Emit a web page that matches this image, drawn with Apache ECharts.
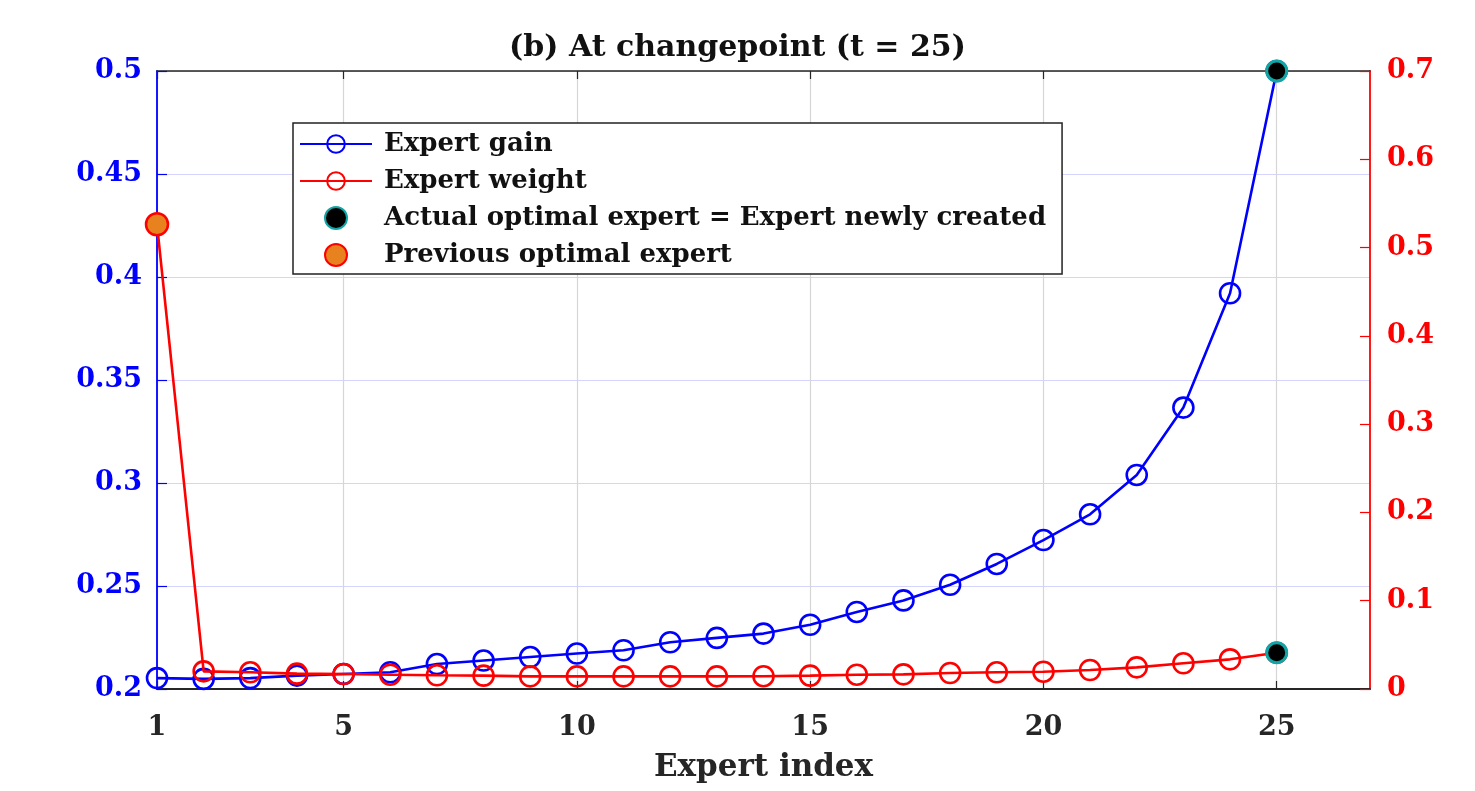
<!DOCTYPE html>
<html>
<head>
<meta charset="utf-8">
<script src="https://cdn.jsdelivr.net/npm/echarts@6/dist/echarts.min.js"></script>
<style>
html,body{margin:0;padding:0;background:#fff;}
#chart{width:1475px;height:791px;}
</style>
</head>
<body>
<div id="chart"></div>
<script>
// ---- data ----
const expertIndex = [1,2,3,4,5,6,7,8,9,10,11,12,13,14,15,16,17,18,19,20,21,22,23,24,25];
const expertGain = [0.2053,0.2049,0.2053,0.2065,0.2073,0.2081,0.2121,0.2138,0.2155,0.2172,0.2188,0.2227,0.2248,0.2269,0.2312,0.2374,0.2430,0.2506,0.2607,0.2723,0.2848,0.3039,0.3366,0.3921,0.5000];
const expertWeight = [0.5264,0.0200,0.0189,0.0174,0.0170,0.0162,0.0155,0.0151,0.0143,0.0143,0.0143,0.0143,0.0143,0.0145,0.0151,0.0162,0.0166,0.0181,0.0189,0.0196,0.0215,0.0245,0.0291,0.0336,0.0411];
const xTicks = [1,5,10,15,20,25];
const actualOptimalIdx = 25;
const previousOptimalIdx = 1;
const titleText = '(b) At changepoint (t = 25)';
const xName = 'Expert index';
const names = ['Expert gain','Expert weight','Actual optimal expert = Expert newly created','Previous optimal expert'];

const FONT = 'DejaVu Serif';
const pos = expertIndex.indexOf(actualOptimalIdx);
const ppos = expertIndex.indexOf(previousOptimalIdx);

const chart = echarts.init(document.getElementById('chart'), null, {renderer:'canvas'});
const option = {
  backgroundColor:'#fff',
  animation:false,
  title:{
    text:titleText, left:'center', top:28,
    textStyle:{fontFamily:FONT, fontWeight:'bold', fontSize:30, color:'#111'}
  },
  grid:{left:157, right:105, top:71, bottom:102, containLabel:false},
  legend:{
    orient:'vertical', left:293, top:123,
    backgroundColor:'#fff', borderColor:'#222', borderWidth:1.5,
    padding:[8,16,6,6], itemGap:11, itemWidth:72, itemHeight:22,
    textStyle:{fontFamily:FONT, fontWeight:'bold', fontSize:26, lineHeight:26, color:'#111', padding:[0,0,0,7]},
    data: names
  },
  xAxis:[{
    type:'value', min:1, max:27, position:'bottom',
    name:xName, nameLocation:'middle', nameGap:63,
    nameTextStyle:{fontFamily:FONT, fontWeight:'bold', fontSize:31, color:'#262626'},
    axisLine:{show:true, onZero:false, lineStyle:{color:'#262626', width:1.8}},
    axisTick:{show:true, inside:true, length:8, customValues:xTicks, lineStyle:{color:'#262626', width:1.2}},
    axisLabel:{customValues:xTicks, margin:25, fontFamily:FONT, fontWeight:'bold', fontSize:27, color:'#262626'},
    splitLine:{show:true, lineStyle:{color:'#d6d6d6', width:1.2}}
  },{
    type:'value', min:1, max:27, position:'top',
    axisLine:{show:true, onZero:false, lineStyle:{color:'#262626', width:1.5}},
    axisTick:{show:true, inside:true, length:8, customValues:xTicks, lineStyle:{color:'#262626', width:1.2}},
    axisLabel:{show:false},
    splitLine:{show:false}
  }],
  yAxis:[{
    type:'value', min:0.2, max:0.5, interval:0.05, position:'left',
    axisLine:{show:true, onZero:false, lineStyle:{color:'#0000ff', width:1.8}},
    axisTick:{show:true, inside:true, length:10, lineStyle:{color:'#0000ff', width:1.2}},
    axisLabel:{margin:15, fontFamily:FONT, fontWeight:'bold', fontSize:27, color:'#0000ff'},
    splitLine:{show:true, lineStyle:{color:'#d4d4ff', width:1.2}}
  },{
    type:'value', min:0, max:0.7, interval:0.1, position:'right',
    axisLine:{show:true, onZero:false, lineStyle:{color:'#ff0000', width:1.8}},
    axisTick:{show:true, inside:true, length:10, lineStyle:{color:'#ff0000', width:1.2}},
    axisLabel:{margin:17, fontFamily:FONT, fontWeight:'bold', fontSize:27, color:'#ff0000'},
    splitLine:{show:false}
  }],
  series:[{
    name:names[0], type:'line', xAxisIndex:0, yAxisIndex:0,
    data: expertIndex.map((x,i)=>[x, expertGain[i]]),
    symbol:'circle', symbolSize:20,
    lineStyle:{color:'#0000ff', width:2.6},
    itemStyle:{color:'rgba(255,255,255,0)', borderColor:'#0000ff', borderWidth:2.6},
    z:3
  },{
    name:names[1], type:'line', xAxisIndex:0, yAxisIndex:1,
    data: expertIndex.map((x,i)=>[x, expertWeight[i]]),
    symbol:'circle', symbolSize:20,
    lineStyle:{color:'#ff0000', width:2.6},
    itemStyle:{color:'rgba(255,255,255,0)', borderColor:'#ff0000', borderWidth:2.6},
    z:4
  },{
    name:names[2], type:'scatter', xAxisIndex:0, yAxisIndex:0,
    data:[[expertIndex[pos], expertGain[pos]]],
    symbol:'circle', symbolSize:20,
    itemStyle:{color:'#000', borderColor:'#12a5a5', borderWidth:3, opacity:1},
    z:6
  },{
    name:names[2], type:'scatter', xAxisIndex:0, yAxisIndex:1,
    data:[[expertIndex[pos], expertWeight[pos]]],
    symbol:'circle', symbolSize:20,
    itemStyle:{color:'#000', borderColor:'#12a5a5', borderWidth:3, opacity:1},
    z:6
  },{
    name:names[3], type:'scatter', xAxisIndex:0, yAxisIndex:1,
    data:[[expertIndex[ppos], expertWeight[ppos]]],
    symbol:'circle', symbolSize:22,
    itemStyle:{color:'#e8821e', borderColor:'#ff0000', borderWidth:2.5, opacity:1},
    z:6
  }]
};
chart.setOption(option);
</script>
</body>
</html>
